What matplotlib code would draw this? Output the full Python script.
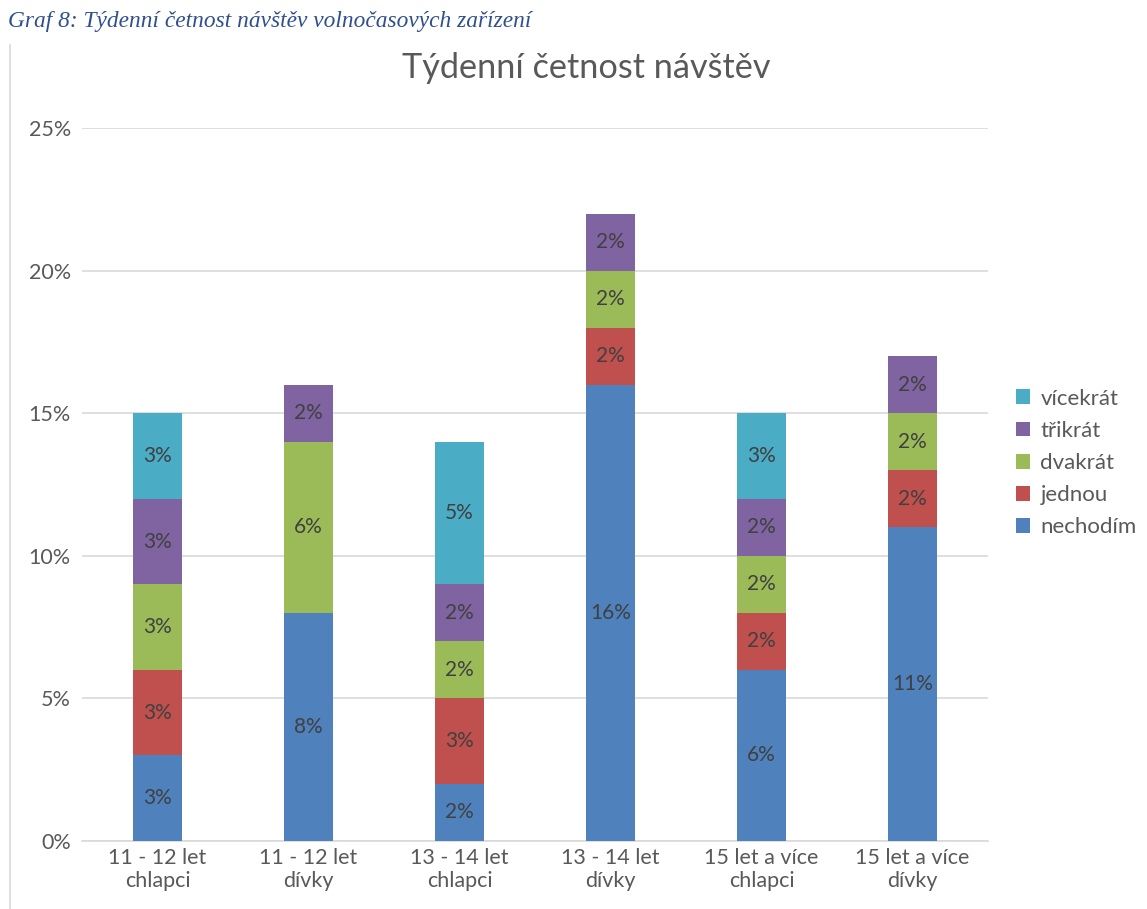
import matplotlib
matplotlib.use("Agg")
import matplotlib.pyplot as plt
import numpy as np

categories = ["11 - 12 let\nchlapci", "11 - 12 let\ndívky", "13 - 14 let\nchlapci",
              "13 - 14 let\ndívky", "15 let a více\nchlapci", "15 let a více\ndívky"]
series_names = ["nechodím", "jednou", "dvakrát", "třikrát", "vícekrát"]
nechodim = [3, 8, 2, 16, 6, 11]
jednou = [3, 0, 3, 2, 2, 2]
dvakrat = [3, 6, 2, 2, 2, 2]
trikrat = [3, 2, 2, 2, 2, 2]
vicekrat = [3, 0, 5, 0, 3, 0]
yticks = [0, 5, 10, 15, 20, 25]
colors = ["#4F81BD", "#C0504D", "#9BBB59", "#8064A2", "#4BACC6"]

plt.rcParams['font.family'] = ['Lato', 'DejaVu Sans']
text_color = "#595959"

fig = plt.figure(figsize=(11.47, 9.09), dpi=100)
ax = fig.add_axes([82/1147, 1-841/909, (988-82)/1147, (841-128)/909])

x = np.arange(len(categories))
bottom = np.zeros(len(categories))
handles = []
for name, vals, col in zip(series_names, [nechodim, jednou, dvakrat, trikrat, vicekrat], colors):
    vals = np.array(vals, dtype=float)
    b = ax.bar(x, vals, 0.32, bottom=bottom, color=col, label=name, zorder=3)
    handles.append(b)
    for xi, v, bt in zip(x, vals, bottom):
        if v > 0:
            ax.text(xi, bt + v/2, f"{int(v)}%", ha="center", va="center",
                    fontsize=15, color="#404040", zorder=4)
    bottom += vals

ax.set_xlim(-0.5, len(categories) - 0.5)
ax.set_ylim(0, 25)
ax.set_yticks(yticks)
ax.set_yticklabels([f"{t}%" for t in yticks])
ax.set_xticks(x)
ax.set_xticklabels(categories)
ax.tick_params(axis="both", length=0, labelsize=15.5, colors=text_color)
ax.tick_params(axis="y", pad=8)
ax.tick_params(axis="x", pad=5)
ax.yaxis.grid(True, color="#D9D9D9", linewidth=1.2, zorder=0)
for s in ["top", "right", "left"]:
    ax.spines[s].set_visible(False)
ax.spines["bottom"].set_color("#D9D9D9")
ax.spines["bottom"].set_linewidth(1.2)

fig.text(586/1147, 1-68/909, "Týdenní četnost návštěv", ha="center", va="center",
         fontsize=24.7, color=text_color)

leg = fig.legend(handles[::-1], series_names[::-1], loc="center left",
                 bbox_to_anchor=(996/1147, 1-463/909), frameon=False, fontsize=16,
                 handlelength=0.65, handleheight=0.65, handletextpad=0.45, labelspacing=0.55,
                 labelcolor=text_color)

fig.text(8/1147, 1-22/909, "Graf 8: Týdenní četnost návštěv volnočasových zařízení",
         ha="left", va="center", fontsize=16.8, style="italic",
         family=["Liberation Serif", "DejaVu Serif"], color="#2F4F8F")

# frame line
fig.add_artist(plt.Line2D([10/1147, 10/1147], [0, 1-45/909], transform=fig.transFigure,
                          color="#D9D9D9", linewidth=1.2))

fig.savefig("out.png", dpi=100)
